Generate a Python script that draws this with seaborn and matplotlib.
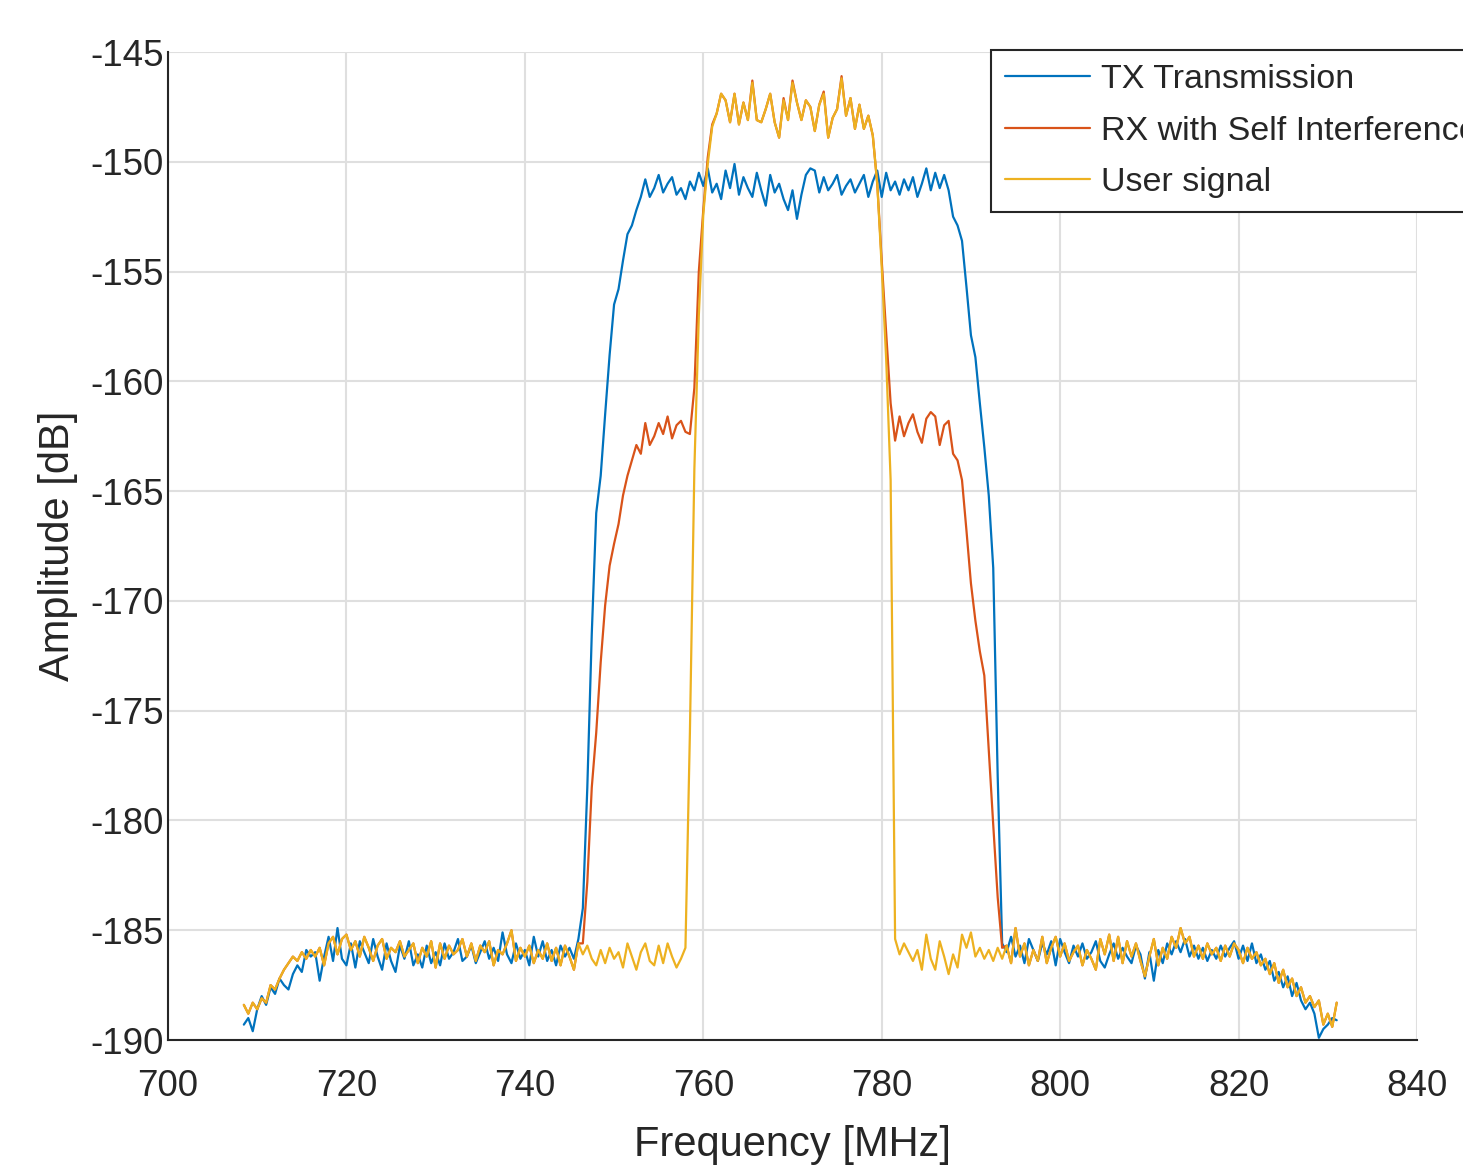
import numpy as np
import pandas as pd
import matplotlib
matplotlib.use("Agg")
import matplotlib.pyplot as plt
import seaborn as sns

# frequency grid [MHz], 0.5 MHz spacing
freq = np.arange(708.5, 831.01, 0.5)

# amplitude [dB] (rows of 5 MHz, starting at 708.5)
tx_transmission = [
    -189.3, -189.0, -189.6, -188.6, -188.0, -188.4, -187.6, -187.9, -187.2, -187.5,
    -187.7, -187.0, -186.6, -186.9, -185.9, -186.2, -186.0, -187.3, -186.2, -185.3,
    -186.4, -184.9, -186.3, -186.6, -185.6, -186.7, -185.5, -186.0, -186.5, -185.4,
    -186.2, -186.8, -185.6, -186.4, -186.9, -185.7, -186.3, -185.5, -186.6, -186.1,
    -186.7, -185.7, -186.5, -186.0, -186.6, -185.6, -186.3, -186.0, -185.4, -186.4,
    -186.2, -185.7, -186.5, -186.0, -185.5, -186.3, -185.8, -186.4, -185.1, -186.1,
    -186.5, -185.6, -186.3, -185.9, -186.6, -185.3, -186.2, -185.5, -186.4, -185.9,
    -186.6, -185.7, -186.2, -185.8, -186.3, -185.4, -184.0, -178.5, -171.5, -166.0,
    -164.3, -161.5, -158.8, -156.5, -155.8, -154.5, -153.3, -152.9, -152.2, -151.6,
    -150.8, -151.6, -151.2, -150.6, -151.4, -151.0, -150.7, -151.5, -151.2, -151.7,
    -150.9, -151.3, -150.5, -151.1, -150.3, -151.4, -151.0, -151.7, -150.4, -151.2,
    -150.1, -151.5, -150.7, -151.2, -151.6, -150.5, -151.3, -152.0, -150.6, -151.4,
    -151.0, -151.7, -152.2, -151.3, -152.6, -151.5, -150.6, -150.3, -150.4, -151.4,
    -150.7, -151.3, -151.0, -150.6, -151.5, -151.1, -150.8, -151.4, -151.0, -150.6,
    -151.6, -150.9, -150.4, -151.6, -150.5, -151.3, -150.9, -151.5, -150.8, -151.3,
    -150.7, -151.6, -151.0, -150.3, -151.3, -150.5, -151.2, -150.6, -151.3, -152.5,
    -152.9, -153.6, -155.7, -157.9, -158.9, -161.0, -163.0, -165.2, -168.5, -178.0,
    -185.6, -186.0, -185.3, -186.2, -185.7, -186.5, -185.4, -185.9, -186.4, -185.6,
    -186.1, -185.5, -186.6, -185.4, -186.0, -186.5, -185.7, -186.2, -185.6, -186.3,
    -186.0, -185.5, -186.4, -186.7, -186.1, -185.6, -186.3, -185.8, -186.2, -186.5,
    -185.7, -186.1, -187.2, -186.0, -187.3, -185.9, -186.5, -185.6, -186.1, -185.5,
    -186.0, -185.4, -186.2, -185.7, -186.3, -185.8, -186.4, -185.9, -186.3, -185.7,
    -186.2, -185.8, -185.5, -186.3, -185.7, -186.4, -185.6, -186.5, -186.1, -186.8,
    -186.4, -187.3, -186.9, -187.6, -187.1, -188.0, -187.4, -188.2, -188.6, -188.3,
    -188.8, -189.9, -189.5, -189.3, -189.0, -189.1,
]

rx_self_interference = [
    -188.4, -188.8, -188.3, -188.6, -188.1, -188.3, -187.5, -187.7, -187.2, -186.8,
    -186.5, -186.2, -186.4, -186.0, -186.3, -185.9, -186.2, -185.8, -186.6, -185.6,
    -185.3, -186.1, -185.4, -185.2, -185.9, -185.5, -186.2, -185.3, -185.8, -186.4,
    -185.7, -185.4, -186.3, -185.8, -186.0, -185.5, -186.2, -185.9, -185.6, -186.5,
    -185.8, -186.2, -185.5, -186.7, -185.6, -186.3, -185.7, -186.1, -185.9, -185.4,
    -186.2, -185.6, -186.4, -185.7, -186.0, -185.5, -186.6, -185.9, -186.1, -185.6,
    -185.0, -186.4, -185.8, -186.2, -185.7, -186.5, -185.9, -186.3, -185.6, -186.4,
    -185.8, -186.6, -185.7, -186.2, -186.8, -185.6, -185.6, -182.8, -178.5, -176.0,
    -172.8, -170.2, -168.4, -167.4, -166.5, -165.2, -164.3, -163.6, -162.9, -163.3,
    -161.9, -162.9, -162.5, -161.9, -162.4, -161.6, -162.6, -162.0, -161.8, -162.3,
    -162.4, -160.3, -155.0, -152.2, -149.8, -148.3, -147.8, -146.9, -147.2, -148.2,
    -146.9, -148.3, -147.3, -148.1, -146.3, -148.1, -148.2, -147.6, -146.9, -148.2,
    -148.9, -147.1, -148.1, -146.3, -147.3, -148.1, -147.2, -147.5, -148.6, -147.4,
    -146.8, -148.9, -148.0, -147.6, -146.1, -147.9, -147.1, -148.5, -147.4, -148.5,
    -147.9, -148.8, -151.0, -154.5, -157.8, -161.0, -162.7, -161.6, -162.5, -161.9,
    -161.5, -162.3, -162.8, -161.7, -161.4, -161.6, -162.9, -162.0, -161.8, -163.3,
    -163.6, -164.5, -166.8, -169.2, -170.9, -172.3, -173.4, -176.8, -180.2, -183.5,
    -185.8, -185.7, -186.5, -184.9, -186.2, -185.6, -186.6, -185.9, -186.4, -185.3,
    -186.5, -185.8, -185.3, -186.2, -185.6, -186.4, -186.0, -185.7, -186.6, -185.9,
    -186.3, -186.8, -185.4, -186.1, -185.2, -186.4, -185.3, -186.5, -185.5, -186.2,
    -185.6, -186.4, -187.1, -186.2, -185.4, -186.6, -185.8, -186.3, -185.3, -185.8,
    -184.9, -185.6, -185.3, -186.2, -185.7, -186.3, -185.6, -186.1, -185.8, -186.4,
    -185.7, -186.2, -185.6, -185.9, -186.5, -185.8, -186.3, -186.0, -186.6, -186.3,
    -187.0, -186.5, -187.4, -186.8, -187.6, -187.2, -188.0, -187.6, -188.3, -188.0,
    -188.5, -188.2, -189.3, -188.8, -189.4, -188.3,
]

user_signal = [
    -188.4, -188.8, -188.3, -188.6, -188.1, -188.3, -187.5, -187.7, -187.2, -186.8,
    -186.5, -186.2, -186.4, -186.0, -186.3, -185.9, -186.2, -185.8, -186.6, -185.6,
    -185.3, -186.1, -185.4, -185.2, -185.9, -185.5, -186.2, -185.3, -185.8, -186.4,
    -185.7, -185.4, -186.3, -185.8, -186.0, -185.5, -186.2, -185.9, -185.6, -186.5,
    -185.8, -186.2, -185.5, -186.7, -185.6, -186.3, -185.7, -186.1, -185.9, -185.4,
    -186.2, -185.6, -186.4, -185.7, -186.0, -185.5, -186.6, -185.9, -186.1, -185.6,
    -185.0, -186.4, -185.8, -186.2, -185.7, -186.5, -185.9, -186.3, -185.6, -186.4,
    -185.8, -186.6, -185.7, -186.2, -186.8, -185.6, -186.1, -185.7, -186.3, -186.6,
    -185.9, -186.5, -185.8, -186.3, -186.0, -186.7, -185.6, -186.2, -186.8, -186.0,
    -185.6, -186.4, -186.6, -185.7, -186.5, -185.6, -186.2, -186.7, -186.3, -185.8,
    -176.0, -164.0, -157.0, -152.4, -150.1, -148.4, -147.8, -146.9, -147.2, -148.2,
    -146.9, -148.3, -147.3, -148.1, -146.4, -148.1, -148.2, -147.6, -146.9, -148.2,
    -148.9, -147.2, -148.1, -146.4, -147.3, -148.1, -147.2, -147.5, -148.6, -147.4,
    -146.9, -148.9, -148.0, -147.6, -146.2, -147.9, -147.1, -148.5, -147.4, -148.5,
    -147.9, -148.8, -151.0, -154.8, -159.0, -164.5, -185.4, -186.1, -185.6, -186.0,
    -186.4, -185.9, -186.8, -185.2, -186.3, -186.8, -185.5, -186.2, -187.0, -186.1,
    -186.7, -185.2, -185.8, -185.1, -186.2, -185.8, -186.3, -185.9, -186.4, -185.8,
    -186.3, -185.7, -186.5, -184.9, -186.2, -185.6, -186.6, -185.9, -186.4, -185.3,
    -186.5, -185.8, -185.3, -186.2, -185.6, -186.4, -186.0, -185.7, -186.6, -185.9,
    -186.3, -186.8, -185.4, -186.1, -185.2, -186.4, -185.3, -186.5, -185.5, -186.2,
    -185.6, -186.4, -187.1, -186.2, -185.4, -186.6, -185.8, -186.3, -185.3, -185.8,
    -184.9, -185.6, -185.3, -186.2, -185.7, -186.3, -185.6, -186.1, -185.8, -186.4,
    -185.7, -186.2, -185.6, -185.9, -186.5, -185.8, -186.3, -186.0, -186.6, -186.3,
    -187.0, -186.5, -187.4, -186.8, -187.6, -187.2, -188.0, -187.6, -188.3, -188.0,
    -188.5, -188.2, -189.3, -188.8, -189.4, -188.3,
]

series_names = ["TX Transmission", "RX with Self Interference", "User signal"]
series_colors = ["#0072BD", "#D95319", "#EDB120"]

df = pd.concat([
    pd.DataFrame({"Frequency": freq, "Amplitude": vals, "Signal": name})
    for name, vals in zip(series_names, [tx_transmission, rx_self_interference, user_signal])
], ignore_index=True)

sns.set_theme(style="whitegrid")
plt.rcParams["font.family"] = ["Liberation Sans", "DejaVu Sans"]
plt.rcParams["axes.unicode_minus"] = False

fig = plt.figure(figsize=(14.63, 11.70), dpi=100)
ax = fig.add_axes([168 / 1463, 130 / 1170, 1249 / 1463, 988 / 1170])

sns.lineplot(data=df, x="Frequency", y="Amplitude", hue="Signal",
             hue_order=series_names, palette=series_colors,
             estimator=None, sort=False, linewidth=1.6, ax=ax)

ax.set_xlim(700, 840)
ax.set_ylim(-190, -145)
ax.set_xticks(np.arange(700, 841, 20))
ax.set_yticks(np.arange(-190, -144, 5))
ax.set_xlabel("Frequency [MHz]", fontsize=30, color="#262626", labelpad=15)
ax.set_ylabel("Amplitude [dB]", fontsize=30, color="#262626", labelpad=9)

ax.grid(True, color="#dfdfdf", linewidth=1.5)
ax.set_axisbelow(True)
for side in ["top", "right"]:
    ax.spines[side].set_visible(False)
for side in ["left", "bottom"]:
    ax.spines[side].set_color("#262626")
    ax.spines[side].set_linewidth(1.5)
ax.tick_params(axis="both", direction="in", length=9, width=1.5,
               colors="#262626", labelsize=26.5)
ax.tick_params(axis="x", pad=21)
ax.tick_params(axis="y", pad=3)

handles, labels = ax.get_legend_handles_labels()
leg = ax.legend(handles, labels, loc="upper left",
                bbox_to_anchor=(991 / 1463, 1 - 50 / 1170),
                bbox_transform=fig.transFigure,
                fontsize=24.5, frameon=True, fancybox=False, shadow=False,
                framealpha=1, edgecolor="#262626", borderpad=0.42,
                labelspacing=0.6, handlelength=2.5, handletextpad=0.3,
                borderaxespad=0)
leg.get_frame().set_linewidth(1.5)
for line in leg.get_lines():
    line.set_linewidth(1.6)

fig.savefig("out.png", dpi=100)
